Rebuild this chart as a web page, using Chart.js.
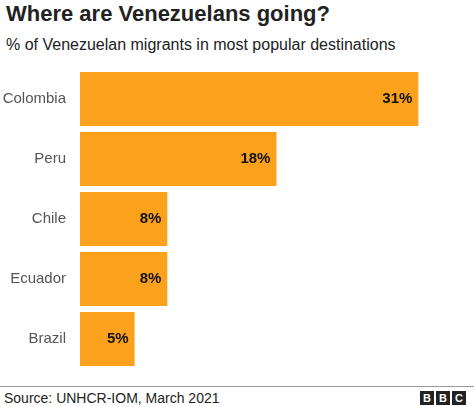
<!DOCTYPE html>
<html><head><meta charset="utf-8">
<script src="https://cdn.jsdelivr.net/npm/chart.js@4/dist/chart.umd.min.js"></script>
<style>
body{margin:0;width:474px;height:407px;background:#fff;font-family:"Liberation Sans",Arial,sans-serif;position:relative;overflow:hidden}
#t{position:absolute;left:6px;top:1px;font-size:22px;font-weight:bold;color:#222}
#s{position:absolute;left:6px;top:36px;font-size:16px;color:#222}
#c{position:absolute;left:0;top:54px}
#line{position:absolute;left:0;right:0;top:386px;border-top:1px solid #999}
#src{position:absolute;left:4px;top:390px;font-size:14px;color:#222}
#bbc{position:absolute;right:8px;top:391px;display:flex;gap:2px}
#bbc span{background:#222;color:#fff;font-weight:bold;font-size:11px;width:14px;height:14px;line-height:14px;text-align:center}
</style></head><body>
<div id="t">Where are Venezuelans going?</div>
<div id="s">% of Venezuelan migrants in most popular destinations</div>
<canvas id="c" width="474" height="330"></canvas>
<div id="line"></div>
<div id="src">Source: UNHCR-IOM, March 2021</div>
<div id="bbc"><span>B</span><span>B</span><span>C</span></div>
<script>
const categories=["Colombia","Peru","Chile","Ecuador","Brazil"];
const values=[31,18,8,8,5];
const labels=["31%","18%","8%","8%","5%"];
const valLabels={id:"vl",afterDatasetsDraw(ch){const c=ch.ctx;c.save();c.font="bold 15px 'Liberation Sans',Arial";c.fillStyle="#111";c.textAlign="right";c.textBaseline="middle";
ch.getDatasetMeta(0).data.forEach((b,i)=>c.fillText(labels[i],b.x-6,b.y));c.restore();}};
new Chart(document.getElementById("c"),{type:"bar",
data:{labels:categories,datasets:[{data:values,backgroundColor:"#fba11b",categoryPercentage:0.9,barPercentage:1}]},
options:{indexAxis:"y",responsive:false,animation:false,layout:{padding:{top:0,bottom:0,right:12}},
plugins:{legend:{display:false},tooltip:{enabled:false}},
scales:{x:{min:0,max:35,display:false},
y:{grid:{display:false},border:{display:false},ticks:{color:"#555",font:{size:15,family:"'Liberation Sans',Arial"},padding:6},afterFit(a){a.width=80;}}}},
plugins:[valLabels]});
</script></body></html>
